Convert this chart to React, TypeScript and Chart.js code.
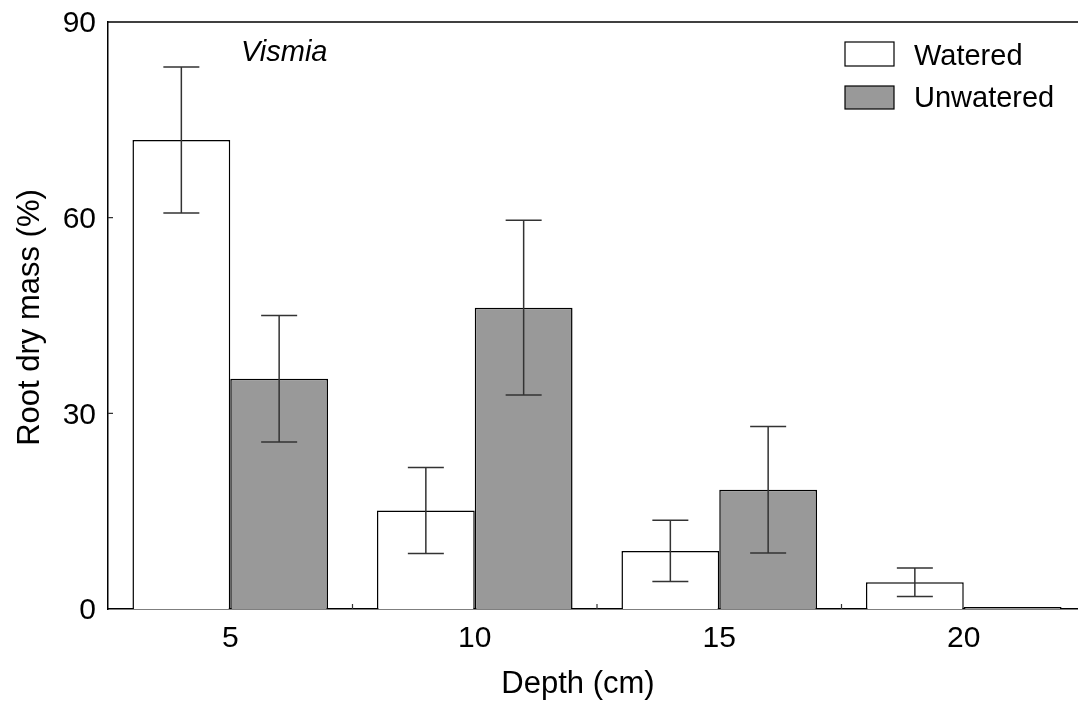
import React, { useEffect, useRef } from "react";
import { Chart, registerables } from "chart.js";

Chart.register(...registerables);

// ---- data ----
const depths = ["5", "10", "15", "20"];
const seriesNames = ["Watered", "Unwatered"];
const wateredMeans = [71.9, 15.1, 8.9, 4.1];
const wateredErrors = [11.2, 6.6, 4.7, 2.2];
const unwateredMeans = [35.3, 46.2, 18.3, 0.3];
const unwateredErrors = [9.7, 13.4, 9.7, 0];
const yTicks = [0, 30, 60, 90];
const xTitle = "Depth (cm)";
const yTitle = "Root dry mass (%)";
const panelLabel = "Vismia";

const FONT = "'Liberation Sans', Arial, Helvetica, sans-serif";
const FILLS = ["#ffffff", "#999999"];

const errorBarPlugin = {
  id: "errorBars",
  afterDatasetsDraw(chart: any) {
    const ctx = chart.ctx;
    const y = chart.scales.y;
    const errs = [wateredErrors, unwateredErrors];
    chart.data.datasets.forEach((ds: any, di: number) => {
      const meta = chart.getDatasetMeta(di);
      meta.data.forEach((bar: any, i: number) => {
        const e = errs[di][i];
        if (!e) return;
        const v = ds.data[i];
        const x = bar.x;
        const yTop = y.getPixelForValue(v + e);
        const yBot = y.getPixelForValue(v - e);
        ctx.save();
        ctx.strokeStyle = "#333";
        ctx.lineWidth = 1.5;
        ctx.beginPath();
        ctx.moveTo(x, yTop);
        ctx.lineTo(x, yBot);
        ctx.moveTo(x - 18, yTop);
        ctx.lineTo(x + 18, yTop);
        ctx.moveTo(x - 18, yBot);
        ctx.lineTo(x + 18, yBot);
        ctx.stroke();
        ctx.restore();
      });
    });
  },
};

const framePlugin = {
  id: "frame",
  afterDraw(chart: any) {
    const { ctx, chartArea: a } = chart;
    const x = chart.scales.x;
    const y = chart.scales.y;
    ctx.save();
    // top frame line
    ctx.strokeStyle = "#000";
    ctx.lineWidth = 1.5;
    ctx.beginPath();
    ctx.moveTo(a.left, a.top);
    ctx.lineTo(a.right, a.top);
    ctx.stroke();
    // inward ticks
    ctx.strokeStyle = "#333";
    ctx.lineWidth = 1.2;
    ctx.beginPath();
    yTicks.forEach((v) => {
      if (v === y.min || v === y.max) return;
      const py = y.getPixelForValue(v);
      ctx.moveTo(a.left, py);
      ctx.lineTo(a.left + 5, py);
    });
    for (let i = 0; i < depths.length - 1; i++) {
      const px = (x.getPixelForValue(i) + x.getPixelForValue(i + 1)) / 2;
      ctx.moveTo(px, a.bottom);
      ctx.lineTo(px, a.bottom - 5);
    }
    ctx.stroke();

    // legend
    const boxes = [
      { y: 42, h: 24, ty: 57 },
      { y: 86, h: 23, ty: 99 },
    ];
    seriesNames.forEach((name, i) => {
      const b = boxes[i];
      ctx.fillStyle = FILLS[i];
      ctx.fillRect(845, b.y, 49, b.h);
      ctx.strokeStyle = "#000";
      ctx.lineWidth = 1.2;
      ctx.strokeRect(845, b.y, 49, b.h);
      ctx.fillStyle = "#000";
      ctx.font = `29px ${FONT}`;
      ctx.textAlign = "left";
      ctx.textBaseline = "middle";
      ctx.fillText(name, 914, b.ty);
    });

    // panel label
    ctx.font = `italic 29px ${FONT}`;
    ctx.textAlign = "left";
    ctx.textBaseline = "middle";
    ctx.fillText(panelLabel, 241, 53);

    // axis titles
    ctx.font = `31px ${FONT}`;
    ctx.textAlign = "center";
    ctx.fillText(xTitle, 578, 684);
    ctx.save();
    ctx.translate(30, (a.top + a.bottom) / 2 + 2);
    ctx.rotate(-Math.PI / 2);
    ctx.font = `31px ${FONT}`;
    ctx.textAlign = "center";
    ctx.textBaseline = "middle";
    ctx.fillText(yTitle, 0, 0);
    ctx.restore();
    ctx.restore();
  },
};

export default function App() {
  const ref = useRef<HTMLCanvasElement>(null);
  useEffect(() => {
    document.body.style.margin = "0";
    const chart = new Chart(ref.current as HTMLCanvasElement, {
      type: "bar",
      data: {
        labels: depths,
        datasets: [
          {
            label: seriesNames[0],
            data: wateredMeans,
            backgroundColor: FILLS[0],
            borderColor: "#000",
            borderWidth: 1.5,
            categoryPercentage: 0.8,
            barPercentage: 1.0,
          },
          {
            label: seriesNames[1],
            data: unwateredMeans,
            backgroundColor: FILLS[1],
            borderColor: "#000",
            borderWidth: 1.5,
            categoryPercentage: 0.8,
            barPercentage: 1.0,
          },
        ],
      },
      options: {
        animation: false,
        responsive: false,
        devicePixelRatio: 1,
        layout: { padding: { top: 11, right: 14, left: 0, bottom: 0 } },
        plugins: {
          legend: { display: false },
          tooltip: { enabled: false },
          title: { display: false },
        },
        scales: {
          x: {
            type: "category",
            offset: true,
            grid: { display: false, offset: true },
            border: { display: true, color: "#000", width: 1.5 },
            ticks: {
              color: "#000",
              font: { family: FONT, size: 30 },
              padding: 4,
              maxRotation: 0,
            },
            afterFit: (s: any) => {
              s.height = 95;
            },
          },
          y: {
            min: 0,
            max: 90,
            grid: { display: false },
            border: { display: true, color: "#000", width: 1.5 },
            ticks: {
              color: "#000",
              font: { family: FONT, size: 30 },
              padding: 4,
              stepSize: 30,
              labelOffset: 2,
            },
            afterBuildTicks: (s: any) => {
              s.ticks = yTicks.map((v) => ({ value: v }));
            },
            afterFit: (s: any) => {
              s.width = 108;
            },
          },
        },
      },
      plugins: [errorBarPlugin, framePlugin],
    } as any);
    return () => chart.destroy();
  }, []);
  return (
    <div
      style={{
        position: "relative",
        width: 1078,
        height: 704,
        overflow: "hidden",
        background: "#fff",
      }}
    >
      <canvas ref={ref} width={1100} height={704} style={{ display: "block" }} />
    </div>
  );
}
